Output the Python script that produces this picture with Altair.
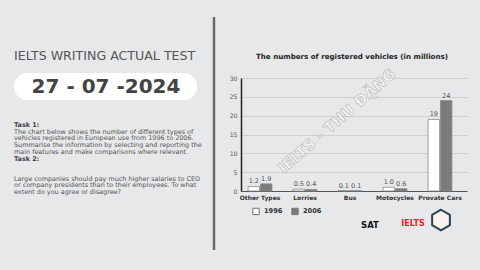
import altair as alt
import pandas as pd

categories = ["Other Types", "Lorries", "Bus", "Motocycles", "Provate Cars"]
years = ["1996", "2006"]
values_1996 = [1.2, 0.5, 0.1, 1.0, 19]
values_2006 = [1.9, 0.4, 0.1, 0.6, 24]
y_ticks = [0, 5, 10, 15, 20, 25, 30]

header = "IELTS WRITING ACTUAL TEST"
date_text = "27 - 07 -2024"
chart_title = "The numbers of registered vehicles (in millions)"
task1_head = "Task 1:"
task1_lines = [
    "The chart below shows the number of different types of",
    "vehicles registered in European use from 1996 to 2006.",
    "Summarise the information by selecting and reporting the",
    "main features and make comparisons where relevant.",
]
task2_head = "Task 2:"
task2_lines = [
    "Large companies should pay much higher salaries to CEO",
    "or company presidents than to their employees. To what",
    "extent do you agree or disagree?",
]
watermark = "IELTS - THU ĐẶNG"

rows = []
for c, a, b in zip(categories, values_1996, values_2006):
    for yr, v in ((years[0], a), (years[1], b)):
        rows.append({"Category": c, "Year": yr, "Value": v,
                     "Label": f"{v:.1f}" if v < 10 else f"{v:g}"})
df = pd.DataFrame(rows)

FONT = "DejaVu Sans"
one = pd.DataFrame({"k": [0]})

x_enc = alt.X("Category:N", sort=categories,
              scale=alt.Scale(paddingInner=0.47, paddingOuter=0.246, align=0.32),
              axis=alt.Axis(title=None, labelAngle=0, ticks=False, labelFontSize=6.0,
                            labelFontWeight="bold", labelColor="#333333", labelFont=FONT,
                            domainColor="#555555", domainWidth=1.2, labelPadding=3))
y_enc = alt.Y("Value:Q", scale=alt.Scale(domain=[0, 30], nice=False),
              axis=alt.Axis(title=None, values=y_ticks, ticks=False, labelFontSize=6.2,
                            labelColor="#555555", labelFont=FONT, grid=True,
                            gridColor="#c9c9cb", gridWidth=0.8, domainColor="#222222",
                            domainWidth=1.5, labelPadding=4, labelOverlap=False))
xo = alt.XOffset("Year:N", scale=alt.Scale(paddingInner=0.08))

bars = alt.Chart(df).mark_bar(stroke="#8a8a8a", strokeWidth=0.8).encode(
    x=x_enc, xOffset=xo, y=y_enc,
    color=alt.Color("Year:N", scale=alt.Scale(domain=years, range=["#ffffff", "#7b7b7b"]),
                    legend=alt.Legend(title=None, orient="none", legendX=11, legendY=129,
                                      direction="horizontal", symbolType="square",
                                      symbolSize=40, symbolStrokeColor="#777777",
                                      symbolStrokeWidth=1, labelFontSize=6.6,
                                      labelFontWeight="bold", labelColor="#333333",
                                      labelFont=FONT, columnPadding=6, labelOffset=4)),
)
labels = alt.Chart(df).mark_text(dy=-5, fontSize=6.5, color="#555555", font=FONT).encode(
    x=x_enc, xOffset=xo, y=y_enc, text="Label:N")

def txt(text, x, y, **kw):
    return alt.Chart(one).mark_text(text=text, **kw).encode(
        x=alt.value(x), y=alt.value(y))

divider = alt.Chart(one).mark_rule(color="#6a6a6a", strokeWidth=2.5).encode(
    x=alt.value(-27), y=alt.value(-61), y2=alt.value(172))
pill = alt.Chart(one).mark_rect(fill="#ffffff", cornerRadius=13).encode(
    x=alt.value(-227), x2=alt.value(-44), y=alt.value(-5), y2=alt.value(22))
hexa = alt.Chart(one).mark_point(
    shape="M0,-1L0.866,-0.5L0.866,0.5L0,1L-0.866,0.5L-0.866,-0.5Z", size=420,
    filled=True, fill="#f7f3ea", stroke="#2f4050", strokeWidth=2, opacity=1).encode(
    x=alt.value(200), y=alt.value(142))

layers = [
    divider, pill,
    txt(header, -227, -22.5, align="left", baseline="middle", fontSize=12.6,
        color="#555555", font=FONT),
    txt(date_text, -135, 9, align="center", baseline="middle", fontSize=20,
        fontWeight="bold", color="#444444", font=FONT),
    txt(task1_head, -227, 46.5, align="left", baseline="middle", fontSize=6.45,
        fontWeight="bold", color="#444444", font=FONT),
    txt(task1_lines, -227, 53.5, align="left", baseline="middle", fontSize=6.45,
        lineHeight=6.7, color="#555555", font=FONT),
    txt(task2_head, -227, 80.5, align="left", baseline="middle", fontSize=6.45,
        fontWeight="bold", color="#444444", font=FONT),
    txt(task2_lines, -227, 100.5, align="left", baseline="middle", fontSize=6.45,
        lineHeight=6.7, color="#555555", font=FONT),
    txt(chart_title, 111, -21, align="center", baseline="middle", fontSize=7.1,
        fontWeight="bold", color="#222222", font=FONT),
    txt(watermark, 96, 43, align="center", baseline="middle", fontSize=15,
        fontWeight="bold", angle=319, fill="#f7f7f7", stroke="#b8b8b8",
        strokeWidth=0.7, opacity=0.9, font=FONT),
    bars, labels,
    txt("SAT", 129, 147, align="center", baseline="middle", fontSize=8.5,
        fontWeight="bold", color="#111111", font=FONT),
    txt("IELTS", 172, 146, align="center", baseline="middle", fontSize=8,
        fontWeight="bold", color="#e1261c", font=FONT),
    hexa,
]

chart = alt.layer(*layers).properties(
    width=226, height=113,
    autosize=alt.AutoSizeParams(type="none"),
    padding={"left": 241, "top": 78, "right": 13, "bottom": 79},
).configure(background="#e7e8ea").configure_view(stroke=None)

chart.save("out.html", embed_options={"renderer": "svg", "actions": False})
